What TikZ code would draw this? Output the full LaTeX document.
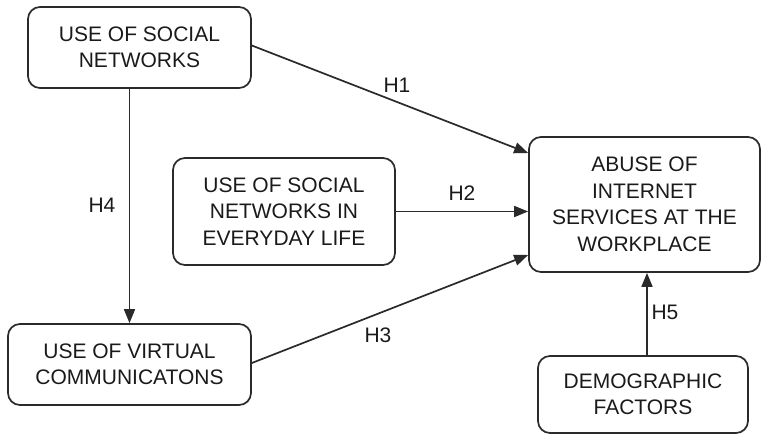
\documentclass[tikz,border=0pt]{standalone}
\usepackage{fontspec}
\setmainfont{Liberation Sans}
\usetikzlibrary{arrows.meta}
\definecolor{ink}{HTML}{1A1A1A}
\definecolor{edge}{HTML}{2A2A2A}
\begin{document}
\begin{tikzpicture}[x=1pt,y=-1pt,
  box/.style={draw=edge, line width=1.7pt, rounded corners=12pt, align=center,
    text=ink, font=\fontsize{21}{26.5}\selectfont, inner sep=0pt},
  lbl/.style={text=ink, font=\fontsize{21}{26.5}\selectfont, inner sep=0pt},
  conn/.style={draw=edge, line width=1.7pt, -{Triangle[length=14pt,width=11pt]}}]
\useasboundingbox (0,0) rectangle (761,434);
\node[box, minimum width=223pt, minimum height=81pt] (b1) at (139.5,47.5) {USE OF SOCIAL\\NETWORKS};
\node[box, minimum width=222pt, minimum height=107pt] (b2) at (284,211.5) {USE OF SOCIAL\\NETWORKS IN\\EVERYDAY LIFE};
\node[box, minimum width=243pt, minimum height=81pt] (b3) at (129.5,364.5) {USE OF VIRTUAL\\COMMUNICATONS};
\node[box, minimum width=231pt, minimum height=135pt] (b4) at (644.5,204.5) {ABUSE OF\\INTERNET\\SERVICES AT THE\\WORKPLACE};
\node[box, minimum width=210pt, minimum height=77pt] (b5) at (643,394.5) {DEMOGRAPHIC\\FACTORS};
\draw[conn] ([yshift=2pt]b1.east) -- ([yshift=51.5pt]b4.west);
\draw[conn] (b2.east) -- (b2.east -| b4.west);
\draw[conn] ([yshift=1.5pt]b3.east) -- ([yshift=-50.5pt]b4.west);
\draw[conn] (b3.north |- b1.south) -- (b3.north);
\draw[conn] ([xshift=4pt]b5.north) -- ([xshift=4pt]b5.north |- b4.south);
\node[lbl] (h1) at (397,85) {H1};
\node[lbl] (h2) at (462,193) {H2};
\node[lbl] (h3) at (378,335) {H3};
\node[lbl] (h4) at (102,205) {H4};
\node[lbl] (h5) at (665,312) {H5};
\end{tikzpicture}
\end{document}
